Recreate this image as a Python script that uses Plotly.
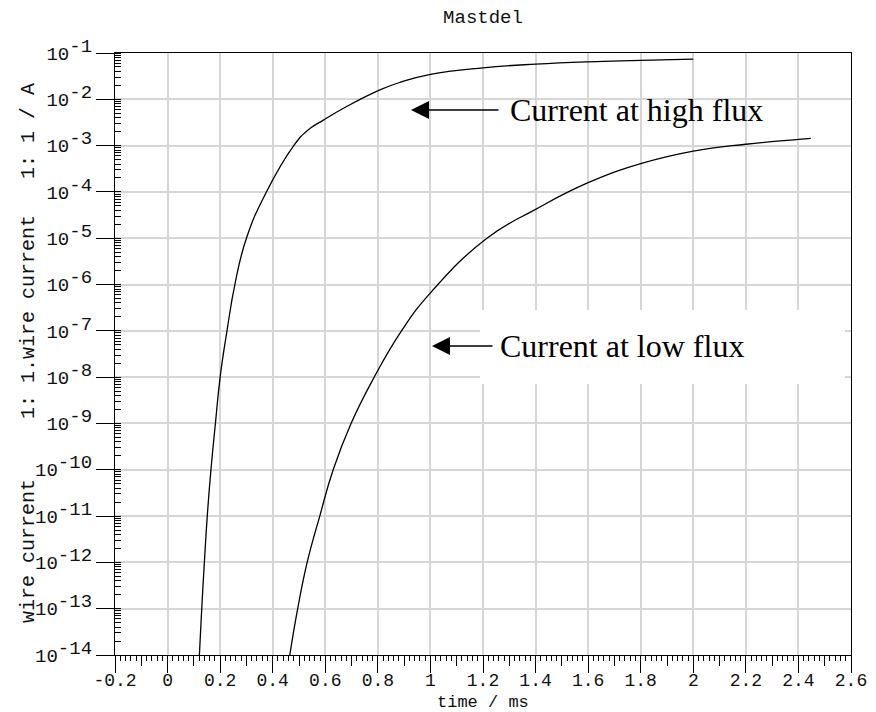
import plotly.graph_objects as go

# ---- data ----
time_high = [0.121, 0.130, 0.140, 0.151, 0.165, 0.182, 0.200, 0.226, 0.256, 0.300,
             0.376, 0.480, 0.531, 0.594, 0.683, 0.810, 0.886, 1.000,
             1.200, 1.400, 1.600, 1.800, 2.000]
current_high = [1e-14, 1e-13, 1e-12, 1e-11, 1e-10, 1e-9, 1e-8, 1e-7, 1e-6, 1e-5,
                1e-4, 1.0e-3, 2.1e-3, 3.6e-3, 7.1e-3, 1.62e-2, 2.34e-2, 3.47e-2,
                4.79e-2, 5.75e-2, 6.46e-2, 6.92e-2, 7.41e-2]

time_low = [0.465, 0.495, 0.531, 0.579, 0.630, 0.698, 0.786, 0.890, 1.000,
            1.215, 1.400, 1.600, 1.800, 2.000, 2.200, 2.400, 2.447]
current_low = [1e-14, 1e-13, 1e-12, 1e-11, 1e-10, 1e-9, 1e-8, 1e-7, 6.6e-7,
               1e-5, 4.2e-5, 1.58e-4, 4.07e-4, 7.59e-4, 1.07e-3, 1.36e-3, 1.43e-3]

y_exponents = list(range(-14, 0))
y_tickvals = [10.0 ** e for e in y_exponents]
y_ticktext = ["10<sup><span style='font-size:19px'>%d</span></sup>" % e for e in y_exponents]
x_tickvals = [-0.2, 0, 0.2, 0.4, 0.6, 0.8, 1, 1.2, 1.4, 1.6, 1.8, 2, 2.2, 2.4, 2.6]
x_ticktext = ["-0.2", "0", "0.2", "0.4", "0.6", "0.8", "1", "1.2", "1.4", "1.6", "1.8", "2", "2.2", "2.4", "2.6"]
x_midticks = [-0.1, 0.1, 0.3, 0.5, 0.7, 0.9, 1.1, 1.3, 1.5, 1.7, 1.9, 2.1, 2.3, 2.5]

title_text = "Mastdel"
x_title = "time / ms"
NB = "\u00a0"
y_title = ("wire" + NB + "current" + NB * 5 + "1:" + NB + "1.wire" + NB + "current"
           + NB * 3 + "1:" + NB + "1" + NB + "/" + NB + "A")
label_high = "Current at high flux"
label_low = "Current at low flux"

MONO = "Liberation Mono"
W, H = 876, 712
ML, MR, MT, MB = 115, 25, 53, 57
PW, PH = W - ML - MR, H - MT - MB


def px2paper(px, py):
    return (px - ML) / PW, (H - MB - py) / PH


fig = go.Figure()
fig.add_trace(go.Scatter(x=time_high, y=current_high, mode="lines",
                         line=dict(color="black", width=1.3, shape="spline", smoothing=1.3),
                         showlegend=False, hoverinfo="skip"))
fig.add_trace(go.Scatter(x=time_low, y=current_low, mode="lines",
                         line=dict(color="black", width=1.3, shape="spline", smoothing=1.3),
                         showlegend=False, hoverinfo="skip"))
# invisible trace to carry the mid-tick overlay axis
fig.add_trace(go.Scatter(x=[time_high[0]], y=[current_high[0]], xaxis="x2", mode="markers",
                         marker=dict(opacity=0), showlegend=False, hoverinfo="skip"))

# white box behind the low-flux label
bx0, by1 = px2paper(480, 310)
bx1, by0 = px2paper(845, 384)
fig.add_shape(type="rect", xref="paper", yref="paper", x0=bx0, x1=bx1, y0=by0, y1=by1,
              fillcolor="white", line=dict(width=0), layer="above")

annotations = []
tx, ty = px2paper(411, 110)
annotations.append(dict(xref="paper", yref="paper", x=tx, y=ty, text="", showarrow=True,
                        ax=89, ay=0, arrowhead=2, arrowsize=2.4, arrowwidth=1.5,
                        arrowcolor="black", standoff=0))
lx, ly = px2paper(508, 110)
annotations.append(dict(xref="paper", yref="paper", x=lx, y=ly, text=label_high, showarrow=False,
                        xanchor="left", yanchor="middle",
                        font=dict(family="Liberation Serif", size=32, color="black")))
tx, ty = px2paper(432, 346)
annotations.append(dict(xref="paper", yref="paper", x=tx, y=ty, text="", showarrow=True,
                        ax=62, ay=0, arrowhead=2, arrowsize=2.4, arrowwidth=1.5,
                        arrowcolor="black", standoff=0))
lx, ly = px2paper(498, 346)
annotations.append(dict(xref="paper", yref="paper", x=lx, y=ly, text=label_low, showarrow=False,
                        xanchor="left", yanchor="middle",
                        font=dict(family="Liberation Serif", size=32, color="black")))
# axis titles
ax_x, ax_y = px2paper(483, 702)
annotations.append(dict(xref="paper", yref="paper", x=ax_x, y=ax_y, text=x_title, showarrow=False,
                        xanchor="center", yanchor="middle",
                        font=dict(family=MONO, size=17, color="#111111")))
ay_x, ay_y = px2paper(28, 353)
annotations.append(dict(xref="paper", yref="paper", x=ay_x, y=ay_y, text=y_title, showarrow=False,
                        xanchor="center", yanchor="middle", textangle=-90,
                        font=dict(family=MONO, size=20, color="#111111")))

fig.update_layout(
    width=W, height=H,
    margin=dict(l=ML, r=MR, t=MT, b=MB, pad=0, autoexpand=False),
    paper_bgcolor="white", plot_bgcolor="white",
    font=dict(family=MONO, size=19, color="#111111"),
    title=dict(text=title_text, x=(ML + PW / 2) / W, xanchor="center", y=1 - 16 / H, yanchor="middle",
               font=dict(family=MONO, size=19, color="#111111")),
    annotations=annotations,
    xaxis=dict(range=[-0.2, 2.6], tickmode="array", tickvals=x_tickvals, ticktext=x_ticktext,
               automargin=False,
               showgrid=True, gridcolor="#d6d6d6", gridwidth=1.5, zeroline=False,
               showline=True, linecolor="black", linewidth=1.3, mirror=True,
               ticks="outside", ticklen=17, tickwidth=1.3, tickcolor="black",
               ticklabelstandoff=-9,
               minor=dict(dtick=0.02, tick0=0, ticks="outside", ticklen=5, tickwidth=1, tickcolor="black", showgrid=False),
               tickfont=dict(family=MONO, size=18)),
    xaxis2=dict(range=[-0.2, 2.6], overlaying="x", anchor="y", side="bottom", automargin=False,
                tickmode="array", tickvals=x_midticks, showticklabels=False,
                showgrid=False, zeroline=False, showline=False,
                ticks="outside", ticklen=10, tickwidth=1.1, tickcolor="black"),
    yaxis=dict(type="log", range=[-14, -1], tickmode="array", tickvals=y_tickvals, ticktext=y_ticktext,
               automargin=False,
               showgrid=True, gridcolor="#d6d6d6", gridwidth=1.5, zeroline=False,
               showline=True, linecolor="black", linewidth=1.3, mirror=True,
               ticks="outside", ticklen=18, tickwidth=1.3, tickcolor="black",
               minor=dict(dtick="D1", ticks="inside", ticklen=6, tickwidth=1, tickcolor="black", showgrid=False),
               tickfont=dict(family=MONO, size=19)),
)

fig.write_html("out.html")
